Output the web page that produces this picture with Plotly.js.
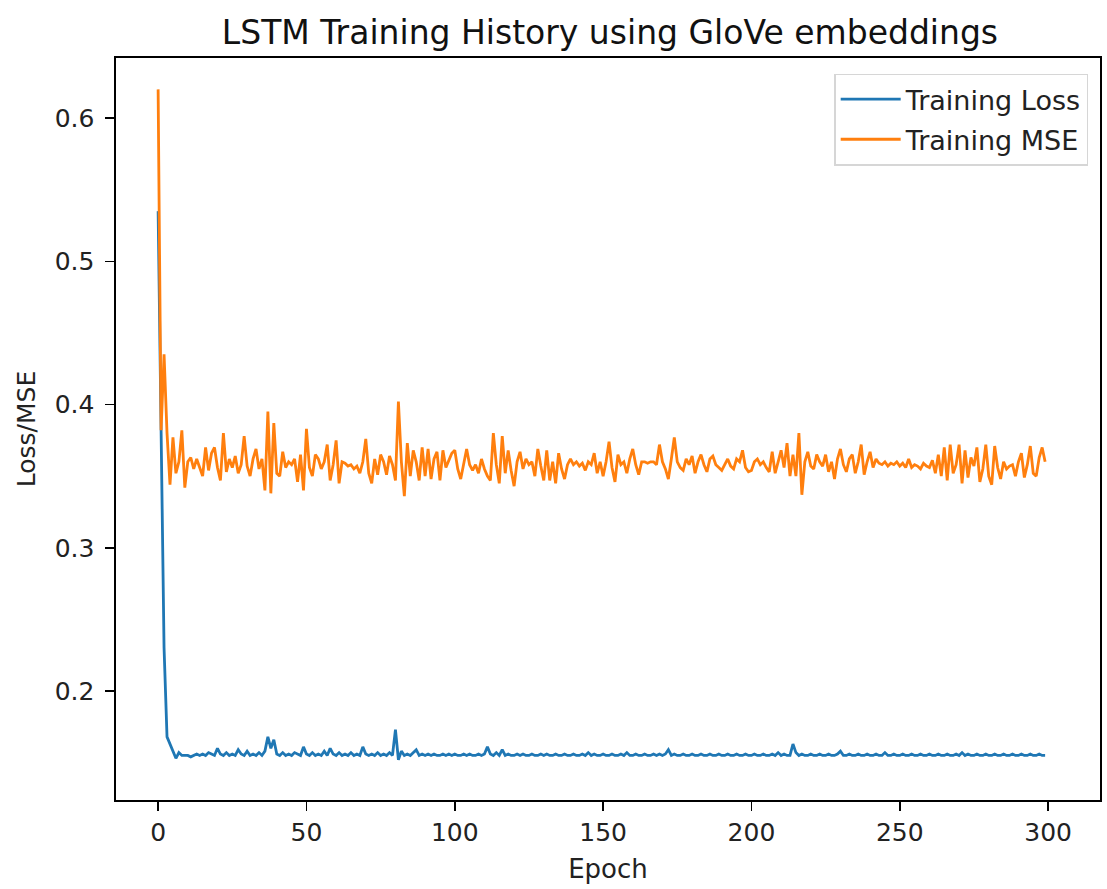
<!DOCTYPE html>
<html>
<head>
<meta charset="utf-8">
<script src="https://cdn.plot.ly/plotly-3.0.1.min.js"></script>
<style>html,body{margin:0;padding:0;background:#fff;}#chart{width:1107px;height:889px;}</style>
</head>
<body>
<div id="chart"></div>
<script>
const chartTitle = "LSTM Training History using GloVe embeddings";
const xLabel = "Epoch";
const yLabel = "Loss/MSE";
const seriesNames = ["Training Loss", "Training MSE"];

const trainingLoss = [
0.535,0.385,0.230,0.168,0.163,0.157,0.153,0.157,0.155,0.155,
0.155,0.154,0.155,0.156,0.155,0.156,0.155,0.157,0.156,0.155,
0.160,0.156,0.155,0.157,0.155,0.156,0.155,0.159,0.156,0.155,
0.158,0.155,0.156,0.155,0.157,0.155,0.158,0.168,0.160,0.166,
0.156,0.155,0.157,0.155,0.156,0.155,0.157,0.156,0.155,0.161,
0.156,0.155,0.157,0.155,0.156,0.155,0.158,0.155,0.160,0.156,
0.155,0.157,0.155,0.156,0.155,0.157,0.155,0.156,0.155,0.161,
0.156,0.155,0.156,0.155,0.157,0.155,0.156,0.155,0.157,0.155,
0.173,0.152,0.158,0.155,0.156,0.155,0.157,0.159,0.155,0.156,
0.155,0.156,0.155,0.156,0.155,0.155,0.156,0.155,0.156,0.155,
0.156,0.155,0.155,0.156,0.155,0.156,0.155,0.155,0.156,0.155,
0.156,0.161,0.156,0.155,0.157,0.155,0.159,0.155,0.156,0.155,
0.155,0.156,0.155,0.156,0.155,0.155,0.156,0.155,0.155,0.156,
0.155,0.156,0.155,0.155,0.156,0.155,0.155,0.156,0.155,0.155,
0.156,0.155,0.155,0.156,0.155,0.157,0.155,0.156,0.155,0.155,
0.156,0.155,0.155,0.156,0.155,0.155,0.156,0.155,0.157,0.155,
0.155,0.156,0.155,0.155,0.156,0.155,0.155,0.156,0.155,0.156,
0.155,0.156,0.159,0.155,0.156,0.155,0.155,0.156,0.155,0.155,
0.156,0.155,0.155,0.156,0.155,0.155,0.156,0.155,0.155,0.156,
0.155,0.155,0.156,0.155,0.155,0.156,0.155,0.155,0.156,0.155,
0.155,0.156,0.155,0.155,0.156,0.155,0.155,0.156,0.155,0.157,
0.155,0.156,0.155,0.155,0.163,0.157,0.155,0.156,0.155,0.155,
0.156,0.155,0.155,0.156,0.155,0.155,0.156,0.155,0.155,0.156,
0.158,0.155,0.155,0.156,0.155,0.155,0.156,0.155,0.155,0.156,
0.155,0.155,0.156,0.155,0.155,0.157,0.155,0.155,0.156,0.155,
0.155,0.156,0.155,0.155,0.156,0.155,0.155,0.156,0.155,0.155,
0.156,0.155,0.155,0.156,0.155,0.155,0.156,0.155,0.155,0.156,
0.155,0.157,0.155,0.156,0.155,0.155,0.156,0.155,0.155,0.156,
0.155,0.155,0.156,0.155,0.155,0.156,0.155,0.155,0.156,0.155,
0.155,0.156,0.155,0.155,0.156,0.155,0.155,0.156,0.155,0.155
];

const trainingMSE = [
0.620,0.382,0.435,0.380,0.344,0.377,0.352,0.360,0.382,0.342,
0.360,0.363,0.355,0.362,0.356,0.350,0.370,0.354,0.366,0.370,
0.356,0.347,0.380,0.353,0.362,0.356,0.364,0.352,0.358,0.378,
0.357,0.350,0.362,0.369,0.355,0.362,0.340,0.395,0.338,0.387,
0.352,0.350,0.367,0.356,0.360,0.358,0.362,0.346,0.365,0.340,
0.383,0.356,0.350,0.365,0.362,0.355,0.360,0.372,0.347,0.358,
0.375,0.345,0.360,0.359,0.357,0.358,0.355,0.357,0.352,0.360,
0.376,0.352,0.345,0.362,0.351,0.365,0.360,0.351,0.364,0.358,
0.347,0.402,0.360,0.336,0.373,0.350,0.368,0.360,0.347,0.370,
0.350,0.369,0.348,0.362,0.367,0.347,0.368,0.356,0.361,0.366,
0.368,0.355,0.348,0.360,0.369,0.358,0.354,0.358,0.352,0.362,
0.355,0.350,0.347,0.380,0.358,0.345,0.378,0.352,0.368,0.354,
0.343,0.360,0.367,0.355,0.362,0.358,0.360,0.350,0.369,0.357,
0.347,0.368,0.347,0.360,0.345,0.366,0.355,0.348,0.358,0.362,
0.358,0.360,0.357,0.359,0.354,0.360,0.358,0.366,0.352,0.360,
0.350,0.360,0.374,0.356,0.346,0.365,0.358,0.360,0.352,0.362,
0.369,0.358,0.351,0.360,0.360,0.359,0.360,0.360,0.358,0.372,
0.360,0.355,0.348,0.362,0.377,0.360,0.356,0.354,0.362,0.358,
0.364,0.352,0.360,0.365,0.358,0.353,0.362,0.364,0.358,0.356,
0.354,0.358,0.362,0.357,0.355,0.362,0.360,0.368,0.356,0.353,
0.354,0.360,0.362,0.358,0.360,0.356,0.353,0.367,0.352,0.360,
0.368,0.356,0.373,0.350,0.365,0.350,0.380,0.337,0.360,0.367,
0.357,0.355,0.365,0.360,0.357,0.365,0.353,0.360,0.348,0.362,
0.369,0.358,0.353,0.362,0.365,0.352,0.360,0.372,0.351,0.360,
0.367,0.356,0.362,0.359,0.358,0.360,0.357,0.359,0.358,0.360,
0.357,0.359,0.356,0.362,0.356,0.358,0.357,0.355,0.359,0.357,
0.356,0.361,0.352,0.365,0.350,0.370,0.347,0.372,0.352,0.358,
0.372,0.345,0.368,0.349,0.363,0.357,0.370,0.346,0.355,0.372,
0.350,0.344,0.371,0.356,0.348,0.360,0.355,0.357,0.358,0.350,
0.360,0.366,0.349,0.358,0.371,0.352,0.350,0.363,0.370,0.360
];

const epochs = trainingLoss.map((_, i) => i);
const xTicks = [0, 50, 100, 150, 200, 250, 300];
const yTicks = [0.2, 0.3, 0.4, 0.5, 0.6];

const font = "DejaVu Sans, sans-serif";

const traces = [
  {x: epochs, y: trainingLoss, type: "scatter", mode: "lines", name: seriesNames[0], legendgroup: "a",
   line: {color: "#1f77b4", width: 2.8}},
  {x: epochs, y: trainingMSE, type: "scatter", mode: "lines", name: seriesNames[1], legendgroup: "b",
   line: {color: "#ff7f0e", width: 2.8}}
];

const layout = {
  width: 1107, height: 889,
  paper_bgcolor: "#fff", plot_bgcolor: "#fff",
  margin: {l: 116, r: 7, t: 58, b: 89},
  title: {text: chartTitle, font: {family: font, size: 33, color: "#111"}, x: 0.551, xanchor: "center", y: 0.963, yanchor: "middle"},
  showlegend: true,
  legend: {x: 0.988, xanchor: "right", y: 0.979, yanchor: "top",
    bgcolor: "rgba(255,255,255,0.8)", bordercolor: "#d6d6d6", borderwidth: 1.5,
    font: {family: font, size: 27, color: "#222"}, itemwidth: 60,
    traceorder: "grouped", tracegroupgap: 2},
  xaxis: {
    range: [-14.2, 317.5], tickvals: xTicks, ticktext: xTicks.map(String),
    ticks: "outside", ticklen: 9, tickwidth: 1.5, tickcolor: "#000",
    showline: true, linecolor: "#000", linewidth: 1.6, mirror: true,
    showgrid: false, zeroline: false,
    tickfont: {family: font, size: 25, color: "#222"},
    title: {text: xLabel, font: {family: font, size: 26, color: "#222"}, standoff: 14}
  },
  yaxis: {
    range: [0.1239, 0.6419], tickvals: yTicks, ticktext: yTicks.map(v => v.toFixed(1)),
    ticks: "outside", ticklen: 9, tickwidth: 1.5, tickcolor: "#000",
    showline: true, linecolor: "#000", linewidth: 1.6, mirror: true,
    showgrid: false, zeroline: false, ticklabelstandoff: 6,
    tickfont: {family: font, size: 25, color: "#222"},
    title: {text: yLabel, font: {family: font, size: 25, color: "#222"}, standoff: 12}
  }
};

Plotly.newPlot("chart", traces, layout, {displayModeBar: false, staticPlot: true});
</script>
</body>
</html>
